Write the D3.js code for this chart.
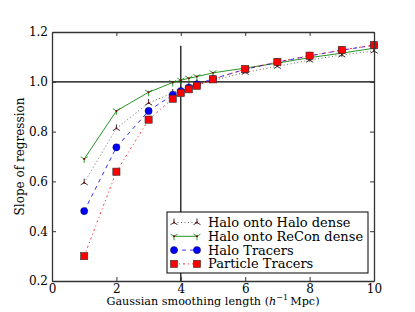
<!DOCTYPE html>
<html>
<head>
<meta charset="utf-8">
<script src="https://cdn.jsdelivr.net/npm/d3@7"></script>
<style>
  body { margin: 0; background: #fff; }
  svg { display: block; }
  text { font-family: "DejaVu Serif", serif; fill: #000; }
</style>
</head>
<body>
<div id="chart-container"></div>
<script>
// smoothing lengths (h^-1 Mpc)
var smoothing = [1, 2, 3, 3.75, 4, 4.25, 4.5, 5, 6, 7, 8, 9, 10];

// slope of regression for each series
var haloOntoHalo   = [0.595, 0.813, 0.915, 0.955, 0.970, 0.983, 0.993, 1.005, 1.038, 1.062, 1.087, 1.108, 1.124];
var haloOntoRecon  = [0.690, 0.883, 0.958, 0.997, 1.006, 1.014, 1.021, 1.036, 1.055, 1.075, 1.097, 1.115, 1.135];
var haloTracers    = [0.481, 0.737, 0.883, 0.948, 0.963, 0.977, 0.990, 1.012, 1.050, 1.079, 1.104, 1.127, 1.147];
var particleTracer = [0.300, 0.639, 0.848, 0.932, 0.955, 0.970, 0.984, 1.010, 1.051, 1.080, 1.105, 1.128, 1.147];

var seriesNames = ['Halo onto Halo dense', 'Halo onto ReCon dense', 'Halo Tracers', 'Particle Tracers'];

var xTicks = [0, 2, 4, 6, 8, 10];
var yTicks = [0.2, 0.4, 0.6, 0.8, 1.0, 1.2];

// reference lines
var refSlope = 1.0;
var refSmoothing = 4;
var refTop = 1.145;

function visualise() {
  var svgWidth = 415;
  var svgHeight = 312;
  var margin = {top: 32, left: 52, bottom: 31, right: 41};
  var w = svgWidth - margin.left - margin.right;
  var h = svgHeight - margin.top - margin.bottom;

  var svg = d3.select('#chart-container')
      .append('svg')
      .attr('width', svgWidth)
      .attr('height', svgHeight);

  var chart = svg.append('g')
      .attr('transform', 'translate(' + margin.left + ',' + margin.top + ')');

  var x = d3.scaleLinear().domain([0, 10]).range([0, w]);
  var y = d3.scaleLinear().domain([0.2, 1.2]).range([h, 0]);

  // reference lines
  chart.append('line')
      .attr('x1', 0).attr('x2', w)
      .attr('y1', y(refSlope)).attr('y2', y(refSlope))
      .attr('stroke', '#000').attr('stroke-width', 1.2);
  chart.append('line')
      .attr('x1', x(refSmoothing)).attr('x2', x(refSmoothing))
      .attr('y1', y(0.2)).attr('y2', y(refTop))
      .attr('stroke', '#000').attr('stroke-width', 1.2);

  var series = [
    {name: seriesNames[0], values: haloOntoHalo, color: '#000', dash: '1,2.5', marker: 'triUp', opacity: 0.6},
    {name: seriesNames[1], values: haloOntoRecon, color: '#008000', dash: null, marker: 'triDown', opacity: 0.85},
    {name: seriesNames[2], values: haloTracers, color: '#0000ff', dash: '4,4', marker: 'circle', opacity: 0.8},
    {name: seriesNames[3], values: particleTracer, color: '#ff0000', dash: '2,3,1,3', marker: 'square', opacity: 0.8}
  ];

  function drawMarker(g, type, color) {
    if (type === 'circle') {
      g.append('circle').attr('r', 3.6)
        .attr('fill', color).attr('stroke', '#000').attr('stroke-width', 0.4);
    } else if (type === 'square') {
      g.append('rect').attr('x', -3.6).attr('y', -3.6).attr('width', 7.2).attr('height', 7.2)
        .attr('fill', color).attr('stroke', '#333').attr('stroke-width', 0.6);
    } else if (type === 'triUp') {
      g.append('path').attr('d', 'M0,0V-4M0,0L-3.5,2.2M0,0L3.5,2.2')
        .attr('fill', 'none').attr('stroke', '#333').attr('stroke-width', 1);
      g.append('circle').attr('r', 1).attr('fill', '#800000');
    } else if (type === 'triDown') {
      g.append('path').attr('d', 'M0,0V4M0,0L-3.5,-2.2M0,0L3.5,-2.2')
        .attr('fill', 'none').attr('stroke', color).attr('stroke-width', 1).attr('opacity', 0.8);
      g.append('circle').attr('r', 1).attr('fill', '#800000');
    }
  }

  var line = d3.line()
      .x(function(d) { return x(d[0]); })
      .y(function(d) { return y(d[1]); });

  series.forEach(function(s) {
    var pts = smoothing.map(function(v, i) { return [v, s.values[i]]; });
    chart.append('path')
        .datum(pts)
        .attr('fill', 'none')
        .attr('stroke', s.color)
        .attr('stroke-opacity', s.opacity)
        .attr('stroke-width', 1)
        .attr('stroke-dasharray', s.dash)
        .attr('d', line);
    chart.selectAll(null)
        .data(pts)
        .enter()
        .append('g')
        .attr('transform', function(d) { return 'translate(' + x(d[0]) + ',' + y(d[1]) + ')'; })
        .each(function() { drawMarker(d3.select(this), s.marker, s.color); });
  });

  // axes: ticks inside, on all four sides
  var axisColor = '#333';
  var axBottom = chart.append('g')
      .attr('transform', 'translate(0,' + h + ')')
      .call(d3.axisBottom(x).tickValues(xTicks).tickSizeInner(-4).tickSizeOuter(0).tickPadding(3)
        .tickFormat(d3.format('d')));
  var axTop = chart.append('g')
      .call(d3.axisTop(x).tickValues(xTicks).tickSizeInner(-4).tickSizeOuter(0).tickFormat(''));
  var axLeft = chart.append('g')
      .call(d3.axisLeft(y).tickValues(yTicks).tickSizeInner(-4).tickSizeOuter(0).tickPadding(4)
        .tickFormat(d3.format('.1f')));
  var axRight = chart.append('g')
      .attr('transform', 'translate(' + w + ',0)')
      .call(d3.axisRight(y).tickValues(yTicks).tickSizeInner(-4).tickSizeOuter(0).tickFormat(''));

  [axBottom, axTop, axLeft, axRight].forEach(function(a) {
    a.select('.domain').attr('stroke', axisColor).attr('stroke-width', 1.3);
    a.selectAll('.tick line').attr('stroke', axisColor);
    a.selectAll('.tick text').attr('font-family', '"DejaVu Serif", serif').attr('font-size', 12).attr('fill', '#000');
  });

  // axis labels
  var xLabel = svg.append('text')
      .attr('x', margin.left + w / 2)
      .attr('y', 305)
      .attr('text-anchor', 'middle')
      .attr('font-size', 11.2);
  xLabel.append('tspan').text('Gaussian smoothing length (');
  xLabel.append('tspan').attr('font-style', 'italic').text('h');
  xLabel.append('tspan').attr('font-size', 8).attr('dy', -5).text('\u22121');
  xLabel.append('tspan').attr('dy', 5).text('\u2009Mpc)');

  svg.append('text')
      .attr('transform', 'translate(24,' + (margin.top + h / 2) + ') rotate(-90)')
      .attr('text-anchor', 'middle')
      .attr('font-size', 12)
      .text('Slope of regression');

  // legend
  var legend = chart.append('g')
      .attr('transform', 'translate(' + (167 - margin.left) + ',' + (212 - margin.top) + ')');
  legend.append('rect')
      .attr('width', 201).attr('height', 61)
      .attr('fill', '#fff').attr('stroke', '#000').attr('stroke-width', 1);

  series.forEach(function(s, i) {
    var row = legend.append('g').attr('transform', 'translate(0,' + (10.5 + i * 13.8) + ')');
    row.append('line')
        .attr('x1', 7).attr('x2', 30)
        .attr('stroke', s.color).attr('stroke-opacity', s.opacity)
        .attr('stroke-width', 1).attr('stroke-dasharray', s.dash);
    [7, 30].forEach(function(px) {
      var m = row.append('g').attr('transform', 'translate(' + px + ',0)');
      drawMarker(m, s.marker, s.color);
    });
    row.append('text')
        .attr('x', 41).attr('y', 4.5)
        .attr('font-size', 13)
        .text(s.name);
  });
}

visualise();
</script>
</body>
</html>
